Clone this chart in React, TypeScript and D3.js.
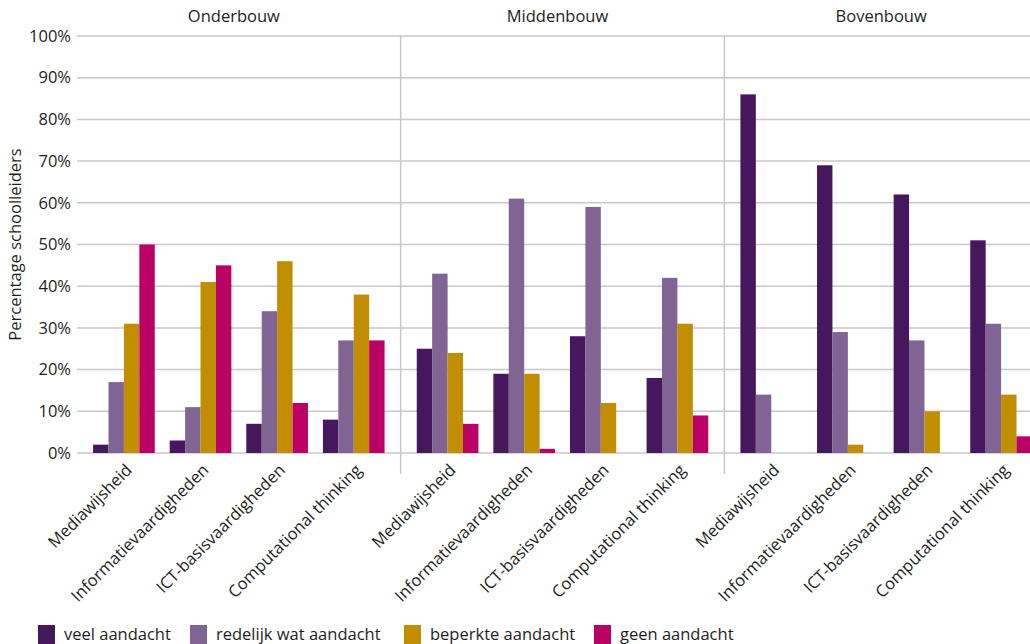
import * as d3 from "d3";
import React from "react";

const groups = ["Onderbouw", "Middenbouw", "Bovenbouw"];
const categories = [
  "Mediawijsheid",
  "Informatievaardigheden",
  "ICT-basisvaardigheden",
  "Computational thinking",
];
const seriesNames = [
  "veel aandacht",
  "redelijk wat aandacht",
  "beperkte aandacht",
  "geen aandacht",
];
const seriesColors = ["#46175c", "#806494", "#c08e00", "#bb0066"];

// values[group][category][series], in percent
const onderbouw = [
  [2, 17, 31, 50],
  [3, 11, 41, 45],
  [7, 34, 46, 12],
  [8, 27, 38, 27],
];
const middenbouw = [
  [25, 43, 24, 7],
  [19, 61, 19, 1],
  [28, 59, 12, 0],
  [18, 42, 31, 9],
];
const bovenbouw = [
  [86, 14, 0, 0],
  [69, 29, 2, 0],
  [62, 27, 10, 0],
  [51, 31, 14, 4],
];
const values = [onderbouw, middenbouw, bovenbouw];
const yTicks = [0, 10, 20, 30, 40, 50, 60, 70, 80, 90, 100];

const W = 1030;
const H = 644;
const FONT = "'Open Sans', 'Noto Sans', sans-serif";
const FS = 16.5;
const TEXT = "#1e1e1e";
const GRID = "#c8c8c8";

const App: React.FC = () => {
  const margin = { top: 36, left: 77, right: 1048, bottom: 453 };

  const y = d3.scaleLinear().domain([0, 100]).range([margin.bottom, margin.top]);

  const xGroup = d3
    .scaleBand<string>()
    .domain(groups)
    .range([margin.left, margin.right])
    .padding(0);

  const xCat = d3
    .scaleBand<string>()
    .domain(categories)
    .range([0, xGroup.bandwidth()])
    .paddingInner(0.195)
    .paddingOuter(0.21);

  const xSeries = d3
    .scaleBand<string>()
    .domain(seriesNames)
    .range([0, xCat.bandwidth()])
    .padding(0);

  const legendX = [38, 190, 404, 594];

  return (
    <svg
      width={W}
      height={H}
      style={{ position: "absolute", left: 0, top: 0, fontFamily: FONT }}
    >
      <rect width={W} height={H} fill="#fff" />

      {/* gridlines */}
      {yTicks.map((t) => (
        <g key={t}>
          <line
            x1={margin.left}
            x2={W}
            y1={y(t)}
            y2={y(t)}
            stroke={GRID}
            strokeWidth={1.5}
          />
          <text
            x={71}
            y={y(t)}
            dy="0.35em"
            textAnchor="end"
            fontSize={FS}
            fill={TEXT}
          >
            {t}%
          </text>
        </g>
      ))}

      {/* group separators */}
      {groups.slice(1).map((g) => (
        <line
          key={g}
          x1={xGroup(g)!}
          x2={xGroup(g)!}
          y1={margin.top}
          y2={474}
          stroke={GRID}
          strokeWidth={1.5}
        />
      ))}

      {/* group headers */}
      {groups.map((g) => (
        <text
          key={g}
          x={xGroup(g)! + xGroup.bandwidth() / 2 - 5}
          y={22}
          textAnchor="middle"
          fontSize={FS}
          fill={TEXT}
        >
          {g}
        </text>
      ))}

      {/* bars */}
      {groups.map((g, gi) =>
        categories.map((c, ci) => {
          const x0 = xGroup(g)! + xCat(c)!;
          return (
            <g key={g + c}>
              {seriesNames.map((s, si) => {
                const v = values[gi][ci][si];
                return (
                  <rect
                    key={s}
                    x={x0 + xSeries(s)!}
                    y={y(v)}
                    width={xSeries.bandwidth()}
                    height={y(0) - y(v)}
                    fill={seriesColors[si]}
                  />
                );
              })}
              <text
                transform={`translate(${x0 + xCat.bandwidth() / 2 + 5},${
                  margin.bottom + 14
                }) rotate(-45)`}
                textAnchor="end"
                dy="0.35em"
                fontSize={FS}
                fill={TEXT}
              >
                {c}
              </text>
            </g>
          );
        })
      )}

      {/* y-axis title */}
      <text
        transform={`translate(21,${(margin.top + margin.bottom) / 2}) rotate(-90)`}
        textAnchor="middle"
        fontSize={FS}
        fill={TEXT}
      >
        Percentage schoolleiders
      </text>

      {/* legend */}
      {seriesNames.map((s, i) => (
        <g key={s} transform={`translate(${legendX[i]},625)`}>
          <rect width={17} height={19} fill={seriesColors[i]} />
          <text x={26} y={15} fontSize={FS} fill={TEXT}>
            {s}
          </text>
        </g>
      ))}
    </svg>
  );
};

export default App;
